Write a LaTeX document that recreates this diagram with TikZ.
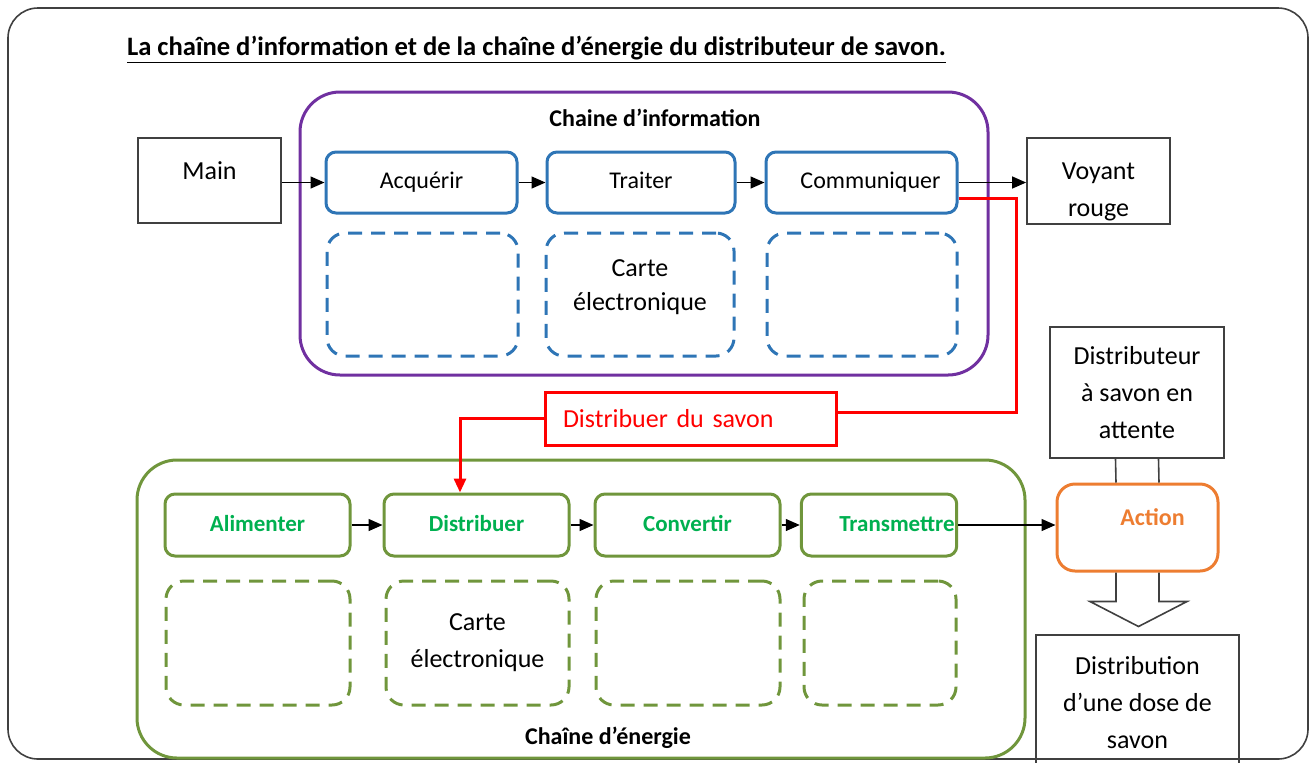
\documentclass[tikz,border=0pt]{standalone}
\usepackage{fontspec}
\setmainfont{Carlito}
\usetikzlibrary{arrows.meta}
\usetikzlibrary{positioning}

\definecolor{infoblue}{HTML}{2E75B6}
\definecolor{infopurple}{HTML}{7030A0}
\definecolor{energygreen}{HTML}{70963C}
\definecolor{labelgreen}{HTML}{00B050}
\definecolor{actionorange}{HTML}{ED7D31}
\definecolor{boxgray}{HTML}{404040}

\tikzset{
	chainframe/.style={draw, line width=1.5pt, rounded corners=20pt},
	infobox/.style={draw=infoblue, line width=1.5pt, rounded corners=5pt,
	                minimum height=30.5pt, text height=9pt, text depth=3pt,
	                font=\fontsize{12}{15}\selectfont},
	infodash/.style={draw=infoblue, line width=1.5pt, rounded corners=9pt,
	                 dash pattern=on 7pt off 4.5pt, minimum height=61.5pt,
	                 align=center, font=\fontsize{13}{17}\selectfont},
	energybox/.style={draw=energygreen, line width=1.5pt, rounded corners=5pt,
	                  minimum height=31pt, text height=9pt, text depth=3pt, text=labelgreen,
	                  font=\bfseries\fontsize{11.5}{14}\selectfont},
	energydash/.style={draw=energygreen, line width=1.5pt, rounded corners=9pt,
	                   dash pattern=on 7pt off 4.5pt, minimum height=62pt,
	                   align=center, font=\fontsize{13}{18.5}\selectfont},
	plainbox/.style={draw=boxgray, line width=0.9pt, align=center,
	                 font=\fontsize{13}{18.5}\selectfont},
	flow/.style={draw=black, line width=0.7pt, -{Triangle[length=7pt,width=6pt]}},
	order/.style={draw=red, line width=1.5pt}
}

\begin{document}
\begin{tikzpicture}[x=0.5pt, y=-0.5pt]
	\clip (0,0) rectangle (1312,762);
	\draw[boxgray, line width=0.8pt, rounded corners=15pt] (8,8) rectangle (1308,759);

	\node[anchor=west, font=\bfseries\fontsize{13.3}{16}\selectfont] (titre) at (120,50)
		{\underline{La chaîne d’information et de la chaîne d’énergie du distributeur de savon.}};

	% chaine d'information
	\node[chainframe, draw=infopurple, minimum width=344pt, minimum height=141.5pt] (info) at (644,233.5) {};
	\node[font=\bfseries\fontsize{12}{14}\selectfont] (infotitre) at (655,118) {Chaine d’information};
	\begin{scope}[every node/.style={infobox}]
		\node[minimum width=95.5pt] (acq) at (421.5,182.5) {Acquérir};
		\node[minimum width=94pt] (trait) at (641,182.5) {Traiter};
		\node[minimum width=95.5pt] (comm) at (861.5,182.5) {\hspace{9pt}Communiquer};
	\end{scope}
	\begin{scope}[every node/.style={infodash}]
		\node[minimum width=95.5pt] (acqd) at (422.5,294.5) {};
		\node[minimum width=94pt, text depth=9pt] (traitd) at (640,294.5) {Carte\\électronique};
		\node[minimum width=95pt] (commd) at (862,294.5) {};
	\end{scope}

	% chaine d'energie
	\node[chainframe, draw=energygreen, minimum width=444pt, minimum height=149pt] (energie) at (581,609) {};
	\node[font=\bfseries\fontsize{12}{14}\selectfont] (energietitre) at (608,738) {Chaîne d’énergie};
	\begin{scope}[every node/.style={energybox}]
		\node[minimum width=92.5pt] (alim) at (257.5,525) {Alimenter};
		\node[minimum width=92.5pt] (dist) at (476.5,525) {Distribuer};
		\node[minimum width=92.5pt] (conv) at (687.5,525) {Convertir};
		\node[minimum width=76pt, inner xsep=1pt] (trans) at (879,525) {\hspace{18pt}Transmettre};
	\end{scope}
	\begin{scope}[every node/.style={energydash}]
		\node[minimum width=92pt] (alimd) at (258,643) {};
		\node[minimum width=91.5pt] (distd) at (477.5,643) {Carte\\électronique};
		\node[minimum width=92pt] (convd) at (688,643) {};
		\node[minimum width=76pt] (transd) at (880,643) {};
	\end{scope}

	% entrees, sorties
	\begin{scope}[every node/.style={plainbox}]
		\node[minimum width=71.5pt, minimum height=42.5pt, text depth=10pt] (main) at (209.5,180.5) {Main};
		\node[minimum width=71.5pt, minimum height=43pt, inner ysep=0pt] (voyant) at (1098.5,181)
			{\rule{0pt}{19pt}Voyant\\rouge};
		\node[minimum width=87pt, minimum height=65.5pt] (attente) at (1137,392.5) {Distributeur\\à savon en\\attente};
		\node[minimum width=101.5pt, minimum height=67.5pt] (dose) at (1137.5,702.5) {Distribution\\d’une dose de\\savon};
	\end{scope}
	\node[draw=red, line width=1.5pt, minimum height=26.5pt, inner xsep=9pt, text width=127.5pt,
	      align=left, text=red, font=\fontsize{13}{16}\selectfont] (ordre) at (690.5,418.5) {Distribuer du savon};
	\node[draw=actionorange, line width=1.5pt, rounded corners=9pt, minimum width=80.5pt,
	      minimum height=43.5pt, text depth=10pt, text=actionorange,
	      font=\bfseries\fontsize{12}{14}\selectfont] (action) at (1137.5,527.5) {\hspace{15pt}Action};

	% fleches
	\path[flow] (main.east |- acq.west) -- (acq.west);
	\path[flow] (acq) -- (trait);
	\path[flow] (trait) -- (comm);
	\path[flow] (comm.east) -- (comm.east -| voyant.west);
	\path[flow] (alim) -- (dist);
	\path[flow] (dist) -- (conv);
	\path[flow] (conv) -- (trans);
	\path[flow] (trans.east) -- (trans.east -| action.west);

	\path[order] ([yshift=-7.75pt]comm.east) -- ++(58,0) |- ([yshift=3pt]ordre.east);
	\path[order, -{Triangle[length=7pt,width=6pt]}] (ordre.west) -| ([xshift=-8.25pt]dist.north);

	% fleche creuse
	\draw[boxgray, line width=0.8pt] ([xshift=-10.75pt]attente.south) -- ([xshift=-10.75pt]action.north);
	\draw[boxgray, line width=0.8pt] ([xshift=10.75pt]attente.south) -- ([xshift=10.75pt]action.north);
	\draw[boxgray, line width=0.8pt] ([xshift=-10.75pt]action.south) -- ++(0,29) -- ++(-26,0)
		-- ++(48.5,25) -- ++(48.5,-25) -- ++(-28,0) -- ([xshift=10.75pt]action.south);
\end{tikzpicture}
\end{document}
